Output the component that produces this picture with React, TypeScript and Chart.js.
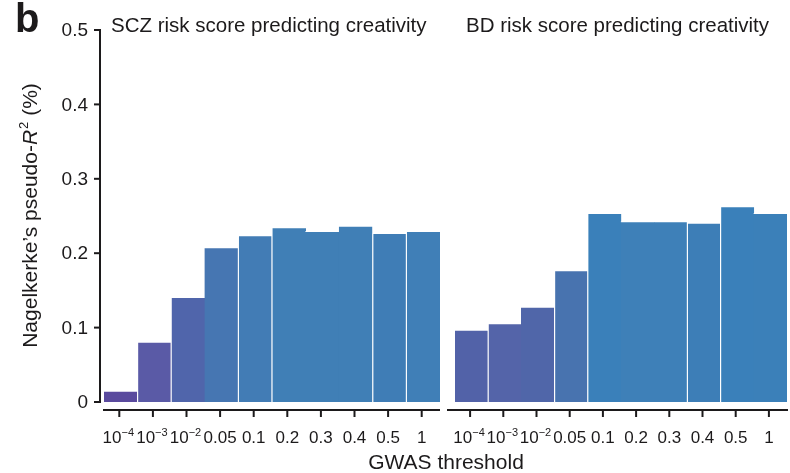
import React, { useEffect, useRef } from "react";
import { Chart, registerables } from "chart.js";

Chart.register(...registerables);

const thresholds = ["10^-4", "10^-3", "10^-2", "0.05", "0.1", "0.2", "0.3", "0.4", "0.5", "1"];
const sczValues = [0.015, 0.081, 0.141, 0.208, 0.224, 0.235, 0.230, 0.237, 0.227, 0.230];
const bdValues = [0.097, 0.106, 0.128, 0.177, 0.254, 0.243, 0.243, 0.241, 0.263, 0.254];
const yTicks = [0, 0.1, 0.2, 0.3, 0.4, 0.5];

const sczColors = ["#5a4a9e", "#5a5aa6", "#5065ab", "#4676b2", "#427cb5", "#407fb6", "#407fb6", "#407fb6", "#3f7db6", "#407fb7"];
const bdColors = ["#5262a8", "#5464a9", "#5066a9", "#4873af", "#3a80ba", "#3e80b8", "#3e80b8", "#3d7eb7", "#3a80ba", "#3b80b9"];
const sczGapAfter = [true, true, false, true, true, false, false, true, true, false];
const bdGapAfter = [true, false, true, true, false, false, true, true, false, false];

const FONT = "'Liberation Sans', Arial, Helvetica, sans-serif";
const INK = "#1c1a1b";

function drawTickLabel(ctx: CanvasRenderingContext2D, label: string, cx: number, baseline: number) {
  const parts = label.split("^");
  ctx.textBaseline = "alphabetic";
  ctx.textAlign = "left";
  if (parts.length === 1) {
    ctx.font = `17px ${FONT}`;
    const w = ctx.measureText(label).width;
    ctx.fillText(label, cx - w / 2, baseline);
    return;
  }
  const base = parts[0];
  const sup = parts[1].replace("-", "\u2212");
  ctx.font = `17px ${FONT}`;
  const wb = ctx.measureText(base).width;
  ctx.font = `11px ${FONT}`;
  const ws = ctx.measureText(sup).width;
  const start = cx - (wb + ws) / 2 - 1;
  ctx.font = `17px ${FONT}`;
  ctx.fillText(base, start, baseline);
  ctx.font = `11px ${FONT}`;
  ctx.fillText(sup, start + wb, baseline - 7);
}

function makeAxisPlugin(title: string, titleX: number, withY: boolean, spineLeft: number, spineRight: number) {
  return {
    id: "customAxes",
    afterDraw(chart: any) {
      const ctx: CanvasRenderingContext2D = chart.ctx;
      const xs = chart.scales.x;
      const ys = chart.scales.y;
      const area = chart.chartArea;
      ctx.save();
      ctx.strokeStyle = INK;
      ctx.fillStyle = INK;
      ctx.lineWidth = 2;
      // x spine
      const xy = area.bottom + 8;
      ctx.beginPath();
      ctx.moveTo(spineLeft, xy);
      ctx.lineTo(spineRight, xy);
      ctx.stroke();
      thresholds.forEach((lab, i) => {
        const px = xs.getPixelForValue(i) - 1.5;
        ctx.beginPath();
        ctx.moveTo(px, xy);
        ctx.lineTo(px, xy + 7);
        ctx.stroke();
        drawTickLabel(ctx, lab, px, xy + 33);
      });
      if (withY) {
        const sx = area.left - 4;
        ctx.beginPath();
        ctx.moveTo(sx, ys.getPixelForValue(0.5) - 1);
        ctx.lineTo(sx, ys.getPixelForValue(0) + 1);
        ctx.stroke();
        ctx.font = `19px ${FONT}`;
        ctx.textAlign = "right";
        ctx.textBaseline = "middle";
        yTicks.forEach((v) => {
          const py = ys.getPixelForValue(v);
          ctx.beginPath();
          ctx.moveTo(sx - 6, py);
          ctx.lineTo(sx, py);
          ctx.stroke();
          ctx.fillText(v === 0 ? "0" : v.toFixed(1), sx - 12, py + 1);
        });
        // y title
        ctx.save();
        ctx.translate(37, 216);
        ctx.rotate(-Math.PI / 2);
        ctx.textBaseline = "alphabetic";
        ctx.textAlign = "left";
        const p1 = "Nagelkerke\u2019s pseudo-";
        const p2 = "R";
        const p3 = "2";
        const p4 = " (%)";
        ctx.font = `21px ${FONT}`;
        const w1 = ctx.measureText(p1).width;
        const w4 = ctx.measureText(p4).width;
        ctx.font = `italic 21px ${FONT}`;
        const w2 = ctx.measureText(p2).width;
        ctx.font = `13px ${FONT}`;
        const w3 = ctx.measureText(p3).width;
        let x = -(w1 + w2 + w3 + w4) / 2;
        ctx.font = `21px ${FONT}`;
        ctx.fillText(p1, x, 0);
        x += w1;
        ctx.font = `italic 21px ${FONT}`;
        ctx.fillText(p2, x, 0);
        x += w2 + 1;
        ctx.font = `13px ${FONT}`;
        ctx.fillText(p3, x, -9);
        x += w3;
        ctx.font = `21px ${FONT}`;
        ctx.fillText(p4, x, 0);
        ctx.restore();
        // panel letter
        ctx.font = `bold 40px ${FONT}`;
        ctx.textAlign = "left";
        ctx.textBaseline = "alphabetic";
        ctx.fillText("b", 15, 32);
        // shared x title
        ctx.font = `21px ${FONT}`;
        ctx.textAlign = "center";
        ctx.fillText("GWAS threshold", 446, 469);
      }
      ctx.font = `20.5px ${FONT}`;
      ctx.textAlign = "left";
      ctx.textBaseline = "alphabetic";
      ctx.fillText(title, titleX, 32);
      ctx.restore();
    },
  };
}

function borderFor(gapAfter: boolean[]) {
  return (c: any) => {
    const i = c.dataIndex;
    const left = i > 0 && gapAfter[i - 1] ? 1 : 0;
    const right = gapAfter[i] ? 1 : 0;
    return { top: 1, left, right, bottom: 0 };
  };
}

function makeConfig(values: number[], colors: string[], gapAfter: boolean[], padding: any, plugin: any): any {
  return {
    type: "bar",
    data: {
      labels: thresholds,
      datasets: [
        {
          data: values,
          backgroundColor: colors,
          borderColor: "rgba(255,255,255,0.85)",
          borderWidth: borderFor(gapAfter),
          borderSkipped: false,
          categoryPercentage: 1,
          barPercentage: 1.025,
        },
      ],
    },
    options: {
      responsive: false,
      animation: false,
      devicePixelRatio: 1,
      layout: { padding },
      plugins: { legend: { display: false }, tooltip: { enabled: false }, title: { display: false } },
      scales: {
        x: { type: "category", display: false, offset: true, grid: { display: false } },
        y: { display: false, min: 0, max: 0.5 },
      },
    },
    plugins: [plugin],
  };
}

export default function App() {
  const leftRef = useRef<HTMLCanvasElement>(null);
  const rightRef = useRef<HTMLCanvasElement>(null);

  useEffect(() => {
    const left = new Chart(
      leftRef.current!,
      makeConfig(
        sczValues,
        sczColors,
        sczGapAfter,
        { left: 104, right: 350, top: 30, bottom: 71 },
        makeAxisPlugin("SCZ risk score predicting creativity", 111, true, 103, 440)
      )
    );
    const right = new Chart(
      rightRef.current!,
      makeConfig(
        bdValues,
        bdColors,
        bdGapAfter,
        { left: 455, right: 3, top: 30, bottom: 71 },
        makeAxisPlugin("BD risk score predicting creativity", 466, false, 447, 788)
      )
    );
    return () => {
      left.destroy();
      right.destroy();
    };
  }, []);

  const cs: React.CSSProperties = { position: "absolute", left: 0, top: 0, width: 790, height: 473, display: "block" };
  return (
    <div style={{ position: "fixed", left: 0, top: 0, width: 790, height: 473, background: "#fff" }}>
      <canvas ref={leftRef} width={790} height={473} style={cs} />
      <canvas ref={rightRef} width={790} height={473} style={cs} />
    </div>
  );
}
